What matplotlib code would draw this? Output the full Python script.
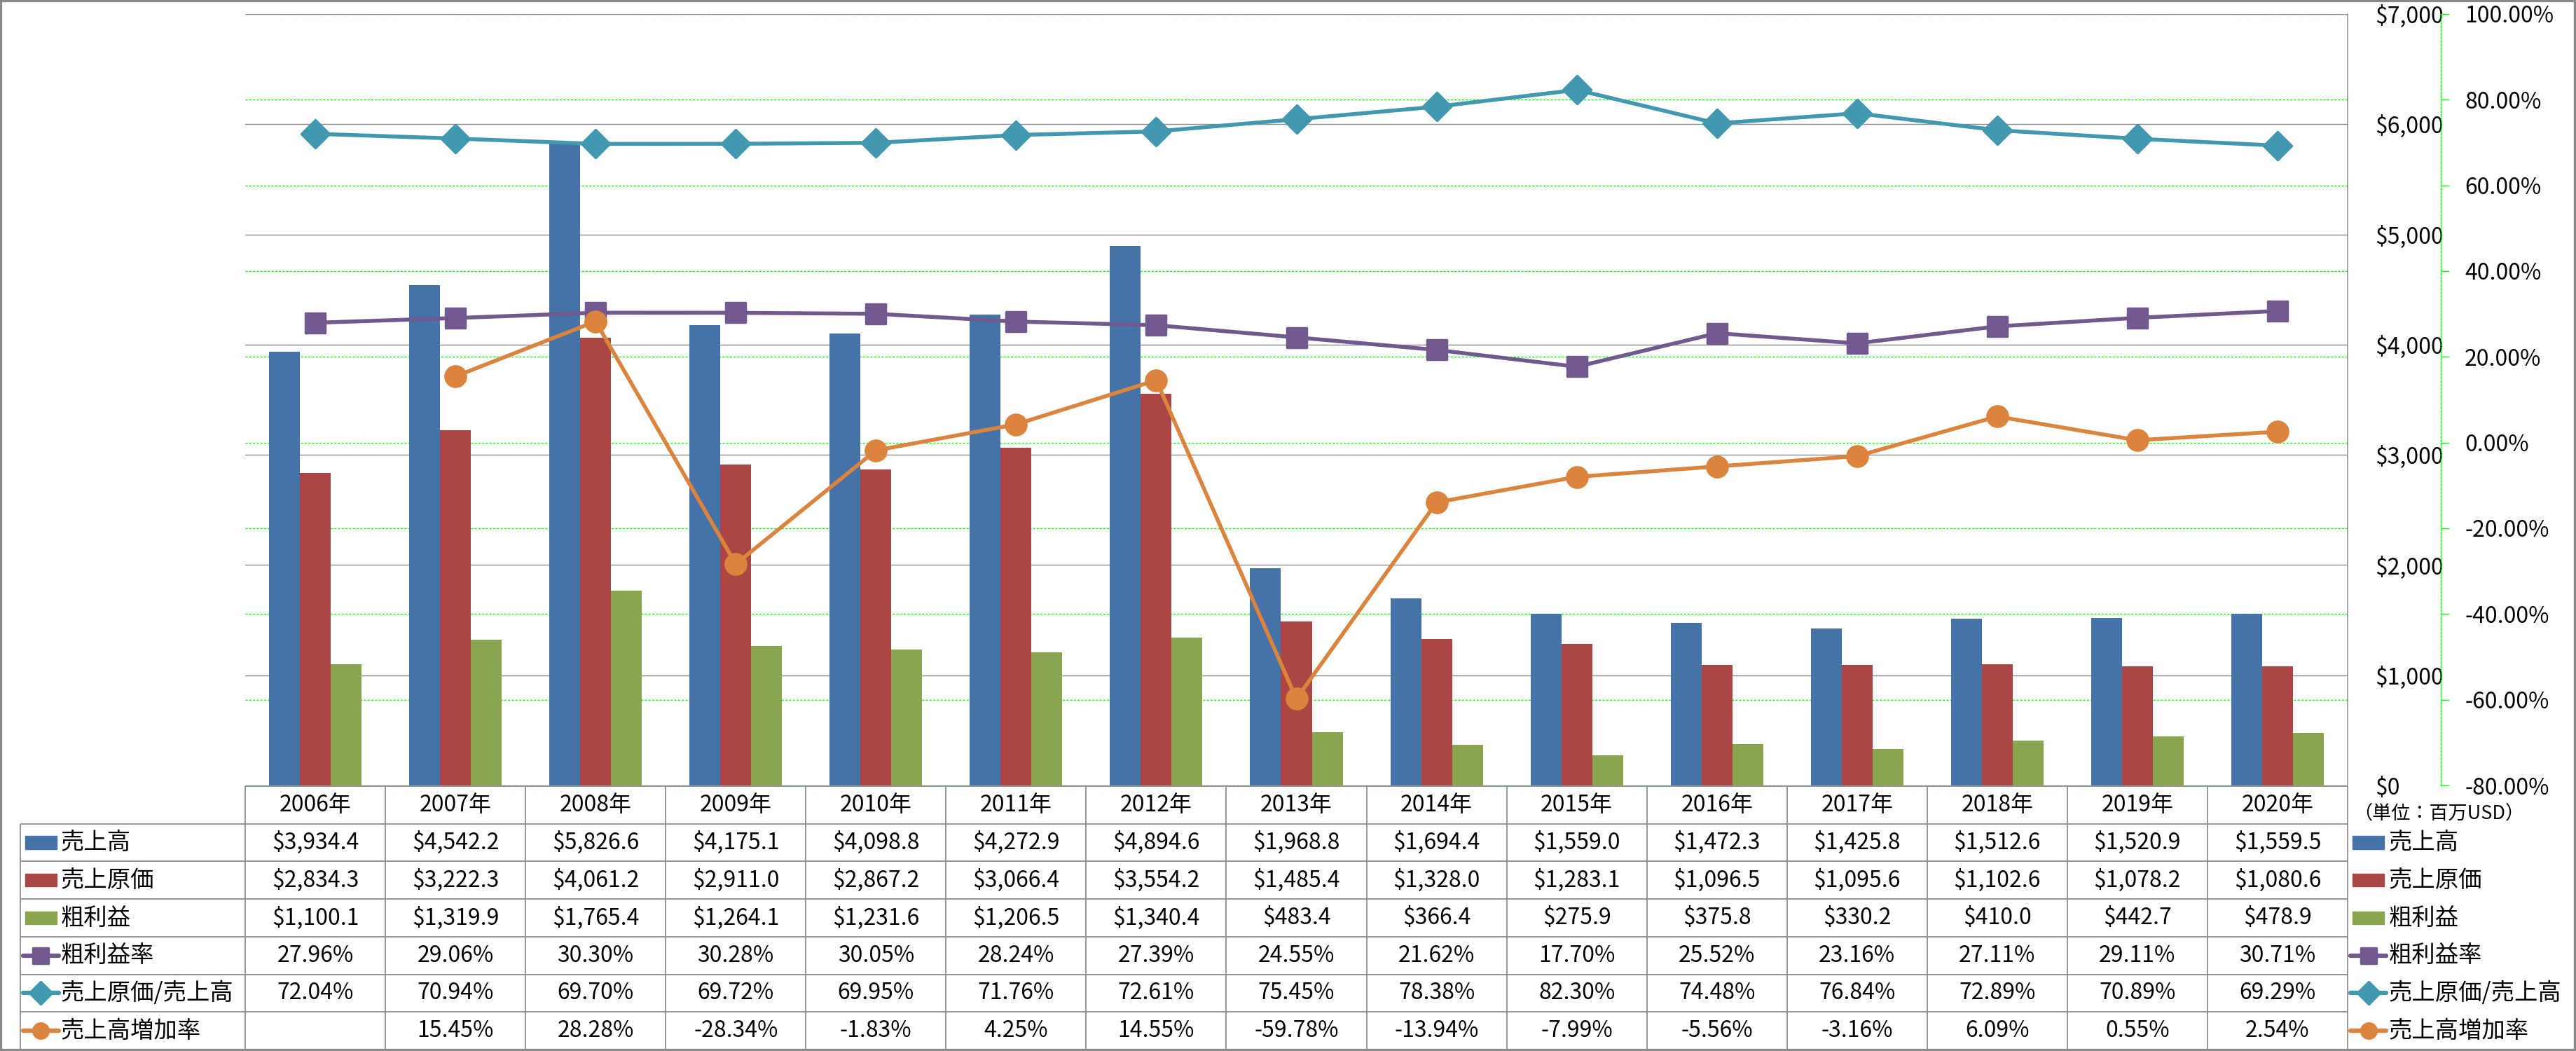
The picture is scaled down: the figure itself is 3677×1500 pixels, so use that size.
import numpy as np
import matplotlib
matplotlib.use('Agg')
import matplotlib.pyplot as plt
from matplotlib.patches import Rectangle
from matplotlib.markers import MarkerStyle

plt.rcParams['font.family'] = ['Noto Sans CJK JP', 'DejaVu Sans']

# ---------------- data ----------------
years = ['2006年', '2007年', '2008年', '2009年', '2010年', '2011年', '2012年', '2013年',
         '2014年', '2015年', '2016年', '2017年', '2018年', '2019年', '2020年']
sales = [3934.4, 4542.2, 5826.6, 4175.1, 4098.8, 4272.9, 4894.6, 1968.8,
         1694.4, 1559.0, 1472.3, 1425.8, 1512.6, 1520.9, 1559.5]
cogs = [2834.3, 3222.3, 4061.2, 2911.0, 2867.2, 3066.4, 3554.2, 1485.4,
        1328.0, 1283.1, 1096.5, 1095.6, 1102.6, 1078.2, 1080.6]
gross = [1100.1, 1319.9, 1765.4, 1264.1, 1231.6, 1206.5, 1340.4, 483.4,
         366.4, 275.9, 375.8, 330.2, 410.0, 442.7, 478.9]
gm_rate = [27.96, 29.06, 30.30, 30.28, 30.05, 28.24, 27.39, 24.55,
           21.62, 17.70, 25.52, 23.16, 27.11, 29.11, 30.71]
cogs_ratio = [72.04, 70.94, 69.70, 69.72, 69.95, 71.76, 72.61, 75.45,
              78.38, 82.30, 74.48, 76.84, 72.89, 70.89, 69.29]
growth = [np.nan, 15.45, 28.28, -28.34, -1.83, 4.25, 14.55, -59.78,
          -13.94, -7.99, -5.56, -3.16, 6.09, 0.55, 2.54]

row_names = ['売上高', '売上原価', '粗利益', '粗利益率', '売上原価/売上高', '売上高増加率']
usd_ticks = [0, 1000, 2000, 3000, 4000, 5000, 6000, 7000]
pct_ticks = [-80, -60, -40, -20, 0, 20, 40, 60, 80, 100]
unit_text = '（単位：百万USD）'

# ---------------- style ----------------
C_BLUE, C_RED, C_GREEN = '#4572A7', '#AA4643', '#89A54E'
C_PURP, C_TEAL, C_ORNG = '#71588F', '#4198AF', '#DB843D'
GRID_GRAY = '#8C8C8C'
LIME = '#00FF00'
FS = 23
FS_CJK = 24

DPI = 100
W, H = 3677, 1500
fig = plt.figure(figsize=(W / DPI, H / DPI), dpi=DPI)
PX = 72.0 / DPI  # points per pixel


def fx(p):
    return p / W


def fy(p):
    return 1 - p / H


PL, PR, PT, PB = 350, 3351, 20, 1121
rect = [fx(PL), fy(PB), fx(PR) - fx(PL), fy(PT) - fy(PB)]
n = len(years)
x = np.arange(n)
colw = (PR - PL) / n

# percent grid (behind everything)
ax_g = fig.add_axes(rect)
ax_g.set_xlim(-0.5, n - 0.5)
ax_g.set_ylim(-80, 100)
ax_g.set_yticks(pct_ticks)
ax_g.set_xticks([])
ax_g.grid(axis='y', color=LIME, linestyle=(0, (2.2, 1.6)), linewidth=1.0)
ax_g.tick_params(left=False, labelleft=False)
for s in ax_g.spines.values():
    s.set_visible(False)

# dollar axis with bars
ax = fig.add_axes(rect)
ax.patch.set_visible(False)
ax.set_xlim(-0.5, n - 0.5)
ax.set_ylim(0, 7000)
ax.set_axisbelow(True)
ax.grid(axis='y', color=GRID_GRAY, linewidth=1.0)
bw = 0.22
ax.bar(x - bw, sales, bw, color=C_BLUE, zorder=2)
ax.bar(x, cogs, bw, color=C_RED, zorder=2)
ax.bar(x + bw, gross, bw, color=C_GREEN, zorder=2)
ax.set_xticks([])
ax.yaxis.tick_right()
ax.set_yticks(usd_ticks, labels=['${:,.0f}'.format(v) for v in usd_ticks])
ax.tick_params(axis='y', which='both', left=False, right=False,
               labelleft=False, labelright=True, pad=34 * PX, labelsize=FS)
for k in ['top', 'left', 'bottom']:
    ax.spines[k].set_visible(False)
ax.spines['right'].set_color(GRID_GRAY)
ax.spines['right'].set_linewidth(1.1)

# percent axis with lines
ax2 = fig.add_axes(rect)
ax2.patch.set_visible(False)
ax2.set_ylim(-80, 100)
ax2.set_xlim(-0.5, n - 0.5)
ax2.set_xticks([])
sq = MarkerStyle('s', joinstyle='round')
dm = MarkerStyle('D', joinstyle='round')
ax2.plot(x, gm_rate, color=C_PURP, marker=sq, markersize=20.5,
         markeredgewidth=2.5, markeredgecolor=C_PURP, linewidth=4, zorder=3)
ax2.plot(x, cogs_ratio, color=C_TEAL, marker=dm, markersize=20.5,
         markeredgewidth=2.5, markeredgecolor=C_TEAL, linewidth=4, zorder=3)
ax2.plot(x, growth, color=C_ORNG, marker='o', markersize=22.5,
         markeredgecolor=C_ORNG, linewidth=4, zorder=3)
ax2.yaxis.tick_right()
ax2.set_yticks(pct_ticks, labels=['{:.2f}%'.format(v) for v in pct_ticks])
ax2.tick_params(axis='y', length=12 * PX, width=1.0, color=LIME,
                pad=22 * PX, labelsize=FS)
for t, v in zip(ax2.yaxis.get_major_ticks(), pct_ticks):
    t.label2.set_color('#FF0000' if v < 0 else 'black')
for k in ['top', 'left', 'bottom']:
    ax2.spines[k].set_visible(False)
sp = ax2.spines['right']
sp.set_position(('outward', (3484 - PR) * PX))
sp.set_color(LIME)
sp.set_linestyle((0, (2.2, 1.6)))
sp.set_linewidth(1.0)

# ---------------- data table ----------------
TL, TT, TB = 29, 1122, 1498
tab = fig.add_axes([fx(TL), fy(TB), 1 - fx(TL), fy(TT) - fy(TB)])
xL = -0.5 - (PL - TL) / colw
xR = n - 0.5 + (W - PR) / colw
tab.set_xlim(xL, xR)
nrows = len(row_names) + 1
tab.set_ylim(nrows, 0)
tab.axis('off')
lc = dict(color=GRID_GRAY, linewidth=1.3, clip_on=False)
tab.hlines(0, -0.5, n - 0.5, **lc)
tab.hlines(np.arange(1, nrows + 1), xL, n - 0.5, **lc)
tab.vlines(np.arange(n + 1) - 0.5, 0, nrows, **lc)
tab.vlines(xL, 1, nrows, **lc)

for i, yr in enumerate(years):
    tab.text(i, 0.5, yr, ha='center', va='center', fontsize=FS)

rows_vals = [
    ['${:,.1f}'.format(v) for v in sales],
    ['${:,.1f}'.format(v) for v in cogs],
    ['${:,.1f}'.format(v) for v in gross],
    ['{:.2f}%'.format(v) for v in gm_rate],
    ['{:.2f}%'.format(v) for v in cogs_ratio],
    ['' if np.isnan(v) else '{:.2f}%'.format(v) for v in growth],
]
for r, vals in enumerate(rows_vals):
    for i, s in enumerate(vals):
        tab.text(i, r + 1.5, s, ha='center', va='center', fontsize=FS)

keys = [('bar', C_BLUE, None), ('bar', C_RED, None), ('bar', C_GREEN, None),
        ('line', C_PURP, sq), ('line', C_TEAL, dm), ('line', C_ORNG, 'o')]


def draw_key(x0px, r, kind, color, marker):
    a = x0px / colw
    yc = r + 1.5
    if kind == 'bar':
        tab.add_patch(Rectangle((a, yc - 0.17), 45 / colw, 0.34,
                                color=color, clip_on=False))
    else:
        tab.plot([a - 3 / colw, a + 48 / colw], [yc, yc], color=color,
                 linewidth=4.5, clip_on=False, solid_capstyle='round')
        ms = 18 if marker == 'o' else 16.5
        mew = 0 if marker == 'o' else 2.5
        tab.plot([a + 22.5 / colw], [yc], marker=marker, color=color,
                 markersize=ms, markeredgewidth=mew, markeredgecolor=color,
                 clip_on=False)


for r, (name, (kind, color, marker)) in enumerate(zip(row_names, keys)):
    # table row header
    draw_key(xL * colw + 7, r, kind, color, marker)
    tab.text(xL + 58 / colw, r + 1.5, name, ha='left', va='center',
             fontsize=FS_CJK)
    # right legend
    rx = (n - 0.5) * colw + 7
    draw_key(rx, r, kind, color, marker)
    tab.text(n - 0.5 + 59 / colw, r + 1.5, name, ha='left', va='center',
             fontsize=FS_CJK)

tab.text(n - 0.5 + 8 / colw, 0.72, unit_text, ha='left', va='center',
         fontsize=19.5)

# outer border
fig.patches.append(Rectangle((0, 0), 1, 1, transform=fig.transFigure,
                             fill=False, edgecolor='#888888', linewidth=4.5))

fig.savefig('out.png', dpi=DPI)
